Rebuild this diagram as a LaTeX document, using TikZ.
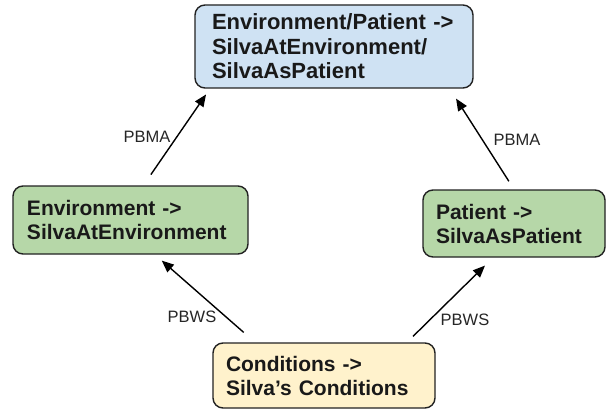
\documentclass[tikz,border=0pt]{standalone}
\usepackage{fontspec}
\setmainfont{Liberation Sans}
\usetikzlibrary{arrows.meta}
\definecolor{boxblue}{HTML}{CFE2F3}
\definecolor{boxgreen}{HTML}{B6D7A8}
\definecolor{boxyellow}{HTML}{FFF2CC}
\definecolor{edgegray}{HTML}{222222}
\begin{document}
\begin{tikzpicture}[x=1pt,y=-1pt,
 box/.style={draw=edgegray, line width=1.4pt, rounded corners=10pt, inner ysep=0pt,
   align=left, font=\fontsize{21}{24}\selectfont\bfseries, text=black!90},
 arr/.style={draw=black, line width=1.4pt, -{Triangle[length=12pt,width=10pt]}},
 lbl/.style={font=\fontsize{16.5}{18}\selectfont, text=black!85}]
\useasboundingbox[fill=white] (0,0) rectangle (608,412);
\node[box, fill=boxblue, text width=244pt, inner xsep=17pt, minimum height=83pt,
  font=\fontsize{22}{24.5}\selectfont\bfseries] (top) at (334,46.5)
  {Environment/Patient ->\\SilvaAtEnvironment/\\SilvaAsPatient};
\node[box, fill=boxgreen, text width=207pt, inner xsep=14pt, minimum height=68pt] (left) at (130.5,220)
  {Environment ->\\SilvaAtEnvironment};
\node[box, fill=boxgreen, text width=156pt, inner xsep=13pt, minimum height=67pt] (right) at (514,223.5)
  {Patient ->\\SilvaAsPatient};
\node[box, fill=boxyellow, text width=196pt, inner xsep=13pt, minimum height=65pt] (bot) at (324,375.5)
  {Conditions ->\\Silva’s Conditions};
\draw[arr, shorten <=13pt, shorten >=7pt] ([xshift=13pt]left.north) -- ([xshift=-124pt]top.south);
\draw[arr, shorten <=9.5pt, shorten >=11.8pt] (right.north) -- ([xshift=115.7pt]top.south);
\draw[arr, shorten <=15pt, shorten >=9pt] ([xshift=-69pt]bot.north) -- ([xshift=24.5pt]left.south);
\draw[arr, shorten <=8.5pt, shorten >=11.3pt] ([xshift=83pt]bot.north) -- ([xshift=-21pt]right.south);
\node[lbl] (l1) at (147,137) {PBMA};
\node[lbl] (l2) at (517,140) {PBMA};
\node[lbl] (l3) at (192,317) {PBWS};
\node[lbl] (l4) at (465,320) {PBWS};
\end{tikzpicture}
\end{document}
